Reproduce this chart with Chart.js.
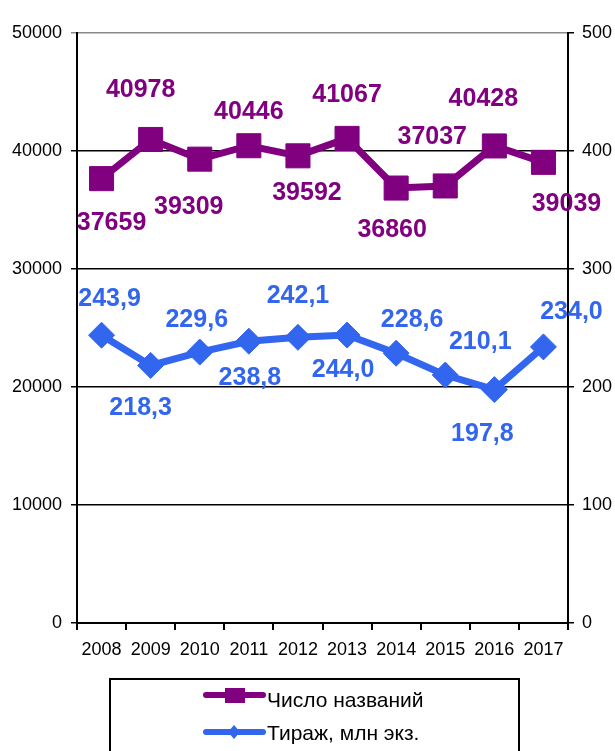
<!DOCTYPE html>
<html>
<head>
<meta charset="utf-8">
<script src="https://cdn.jsdelivr.net/npm/chart.js@4/dist/chart.umd.min.js"></script>
<style>
  html, body { margin: 0; padding: 0; background: #fff; }
  #wrap { width: 615px; height: 751px; }
</style>
</head>
<body>
<div id="wrap"><canvas id="c" width="615" height="751"></canvas></div>
<script>
// ---- data ----
const years = ['2008', '2009', '2010', '2011', '2012', '2013', '2014', '2015', '2016', '2017'];
const titlesCount = [37659, 40978, 39309, 40446, 39592, 41067, 36860, 37037, 40428, 39039];
const circulation = [243.9, 218.3, 229.6, 238.8, 242.1, 244.0, 228.6, 210.1, 197.8, 234.0];
const seriesNames = ['Число названий', 'Тираж, млн экз.'];
const leftTicks = [0, 10000, 20000, 30000, 40000, 50000];
const rightTicks = [0, 100, 200, 300, 400, 500];

// ---- styling / label placement (pixel offsets from each point) ----
const PURPLE = '#800080';
const BLUE = '#3366ee';
const labelOffsets = [
  [[10, 44], [-10, -49], [-11, 48], [0, -34], [9, 37], [0, -43], [-4, 42], [-13, -49], [-11, -47], [23, 42]],
  [[8, -36], [-10, 43], [-3, -32], [1, 37], [0, -41], [-4, 35], [16, -33], [35, -33], [-12, 45], [28, -35]]
];
const labelFormat = [
  v => String(v),
  v => v.toFixed(1).replace('.', ',')
];

const pointLabels = {
  id: 'pointLabels',
  afterDatasetsDraw(chart) {
    const ctx = chart.ctx;
    ctx.save();
    ctx.font = 'bold 25px "Liberation Sans", Arial, sans-serif';
    ctx.textAlign = 'center';
    ctx.textBaseline = 'middle';
    chart.data.datasets.forEach((ds, di) => {
      const meta = chart.getDatasetMeta(di);
      ctx.fillStyle = ds.borderColor;
      meta.data.forEach((pt, i) => {
        const off = labelOffsets[di][i];
        ctx.fillText(labelFormat[di](ds.data[i]), pt.x + off[0], pt.y + off[1]);
      });
    });
    ctx.restore();
  }
};

const boxLegend = {
  id: 'boxLegend',
  afterDraw(chart) {
    const ctx = chart.ctx;
    ctx.save();
    ctx.strokeStyle = '#000';
    ctx.lineWidth = 2;
    ctx.strokeRect(110, 679, 409, 120);
    const rows = [695, 732];
    chart.data.datasets.forEach((ds, di) => {
      const y = rows[di];
      ctx.strokeStyle = ds.borderColor;
      ctx.lineWidth = 6;
      ctx.lineCap = 'round';
      ctx.beginPath();
      ctx.moveTo(206, y);
      ctx.lineTo(263, y);
      ctx.stroke();
      ctx.fillStyle = ds.borderColor;
      if (di === 0) {
        ctx.fillRect(225, y - 7, 20, 15);
      } else {
        ctx.beginPath();
        ctx.moveTo(234, y - 7);
        ctx.lineTo(240, y);
        ctx.lineTo(234, y + 7);
        ctx.lineTo(228, y);
        ctx.closePath();
        ctx.fill();
      }
      ctx.fillStyle = '#000';
      ctx.font = '21px "Liberation Sans", Arial, sans-serif';
      ctx.textAlign = 'left';
      ctx.textBaseline = 'middle';
      ctx.fillText(ds.label, 267, y + 6 - di * 4);
    });
    ctx.restore();
  }
};

const tickFont = { family: '"Liberation Sans", Arial, sans-serif', size: 18 };

new Chart(document.getElementById('c'), {
  type: 'line',
  data: {
    labels: years,
    datasets: [
      {
        label: seriesNames[0],
        data: titlesCount,
        yAxisID: 'y',
        borderColor: PURPLE,
        backgroundColor: PURPLE,
        borderWidth: 7,
        pointStyle: 'rect',
        pointRadius: 17,
        pointBorderWidth: 1,
        pointBackgroundColor: PURPLE,
        pointBorderColor: PURPLE,
        tension: 0
      },
      {
        label: seriesNames[1],
        data: circulation,
        yAxisID: 'y1',
        borderColor: BLUE,
        backgroundColor: BLUE,
        borderWidth: 7,
        pointStyle: 'rectRot',
        pointRadius: 13,
        pointBorderWidth: 1,
        pointBackgroundColor: BLUE,
        pointBorderColor: BLUE,
        tension: 0
      }
    ]
  },
  options: {
    responsive: false,
    animation: false,
    devicePixelRatio: 1,
    layout: { padding: { top: 33, left: 0, right: 0, bottom: 0 } },
    plugins: {
      legend: { display: false },
      tooltip: { enabled: false }
    },
    scales: {
      x: {
        type: 'category',
        offset: true,
        grid: { drawOnChartArea: false, offset: true, color: '#000', lineWidth: 2, tickLength: 7 },
        border: { color: '#000', width: 2 },
        ticks: { color: '#000', font: tickFont, padding: 9, maxRotation: 0, autoSkip: false },
        afterFit(scale) { scale.height = 128; }
      },
      y: {
        position: 'left',
        min: leftTicks[0],
        max: leftTicks[leftTicks.length - 1],
        afterBuildTicks(scale) { scale.ticks = leftTicks.map(v => ({ value: v })); },
        grid: {
          drawOnChartArea: true,
          color: ctx => (ctx.tick && ctx.tick.value === 50000 ? '#888' : '#000'),
          lineWidth: 1.5,
          tickLength: 6
        },
        border: { color: '#000', width: 2 },
        ticks: { color: '#000', font: tickFont, padding: 9, callback: v => String(v) },
        afterFit(scale) { scale.width = 77; }
      },
      y1: {
        position: 'right',
        min: rightTicks[0],
        max: rightTicks[rightTicks.length - 1],
        afterBuildTicks(scale) { scale.ticks = rightTicks.map(v => ({ value: v })); },
        grid: { drawOnChartArea: false, color: '#000', lineWidth: 1.5, tickLength: 6 },
        border: { color: '#000', width: 2 },
        ticks: { color: '#000', font: tickFont, padding: 8, callback: v => String(v) },
        afterFit(scale) { scale.width = 47; }
      }
    }
  },
  plugins: [pointLabels, boxLegend]
});
</script>
</body>
</html>
